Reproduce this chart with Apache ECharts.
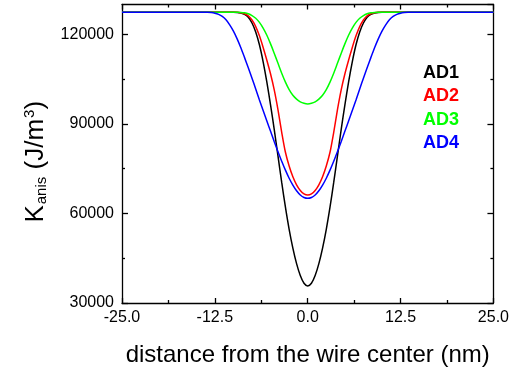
<!DOCTYPE html>
<html><head><meta charset="utf-8">
<script src="https://cdn.jsdelivr.net/npm/echarts@6/dist/echarts.min.js"></script>
<style>html,body{margin:0;padding:0;background:#fff}#c{width:512px;height:372px}</style>
</head><body><div id="c"></div>
<script>
// x positions (nm)
const xs = [-25,-20,-15,-14.5,-14,-13.5,-13,-12.5,-12,-11.5,-11,-10.5,-10,-9.5,-9,-8.5,-8,-7.5,-7,-6.5,-6,-5.5,-5,-4.5,-4,-3.5,-3,-2.5,-2,-1.5,-1,-0.5,0,
  0.5,1,1.5,2,2.5,3,3.5,4,4.5,5,5.5,6,6.5,7,7.5,8,8.5,9,9.5,10,10.5,11,11.5,12,12.5,13,13.5,14,14.5,15,20,25];
const ad1 = [127400,127400,127400,127400,127400,127400,127400,127400,127400,127400,127400,127400,127400,127350,127150,126700,125700,123800,120800,116500,110800,104000,96300,88000,79200,70400,62100,54700,48400,43200,39200,36600,35700,
  36600,39200,43200,48400,54700,62100,70400,79200,88000,96300,104000,110800,116500,120800,123800,125700,126700,127150,127350,127400,127400,127400,127400,127400,127400,127400,127400,127400,127400,127400,127400,127400];
const ad2 = [127400,127400,127400,127400,127400,127400,127400,127400,127400,127400,127400,127400,127400,127370,127250,126900,126200,124800,122600,119500,115600,111300,106700,101300,94700,87200,80500,75900,72300,69600,67700,66550,66170,
  66550,67700,69600,72300,75900,80500,87200,94700,101300,106700,111300,115600,119500,122600,124800,126200,126900,127250,127370,127400,127400,127400,127400,127400,127400,127400,127400,127400,127400,127400,127400,127400];
const ad3 = [127400,127400,127400,127400,127400,127400,127400,127400,127400,127400,127400,127400,127400,127400,127350,127200,126900,126300,125400,124000,122100,119700,116800,113600,110300,107000,104000,101500,99600,98300,97400,96900,96700,
  96900,97400,98300,99600,101500,104000,107000,110300,113600,116800,119700,122100,124000,125400,126300,126900,127200,127350,127400,127400,127400,127400,127400,127400,127400,127400,127400,127400,127400,127400,127400,127400];
const ad4 = [127400,127400,127400,127400,127400,127380,127300,127100,126700,126000,124900,123200,121100,118500,115500,112200,108800,105300,101700,98000,94500,91000,87500,84000,80700,77500,74500,71800,69500,67600,66200,65350,65070,
  65350,66200,67600,69500,71800,74500,77500,80700,84000,87500,91000,94500,98000,101700,105300,108800,112200,115500,118500,121100,123200,124900,126000,126700,127100,127300,127380,127400,127400,127400,127400,127400];
const seriesNames = ['AD1','AD2','AD3','AD4'];
const seriesColors = ['#000000','#ff0000','#00ff00','#0000ff'];
const seriesValues = [ad1, ad2, ad3, ad4];
const yMajor = [30000,60000,90000,120000];
const yMinor = [45000,75000,105000];

const FONT = 'Liberation Sans, Arial, sans-serif';
const chart = echarts.init(document.getElementById('c'), null, {renderer:'canvas'});
const baseX = {type:'value', min:-25, max:25, interval:12.5};
const baseY = {type:'value', min:30000, max:130000, interval:30000};
const lineSt = {show:true, onZero:false, lineStyle:{color:'#000', width:1.3}};
chart.setOption({
  animation:false,
  backgroundColor:'#fff',
  grid:{left:122, right:17, top:4.5, bottom:67.5, containLabel:false},
  legend:{
    orient:'vertical', left:413, top:59, icon:'none', itemWidth:0, itemHeight:14, itemGap:5.3,
    selectedMode:false,
    data: seriesNames.map((n,i)=>({name:n, textStyle:{color:seriesColors[i]}})),
    textStyle:{fontSize:18, fontWeight:'bold', fontFamily:FONT}
  },
  xAxis:[
    Object.assign({}, baseX, {position:'bottom', axisLine:lineSt,
      axisTick:{inside:true, length:5, lineStyle:{color:'#000', width:1.3}},
      minorTick:{show:true, splitNumber:2, length:3, lineStyle:{color:'#000', width:1.3}},
      splitLine:{show:false},
      axisLabel:{color:'#000', fontSize:16, fontFamily:FONT, margin:7, formatter:v=>v.toFixed(1)},
      name:'distance from the wire center (nm)', nameLocation:'middle', nameGap:40,
      nameTextStyle:{color:'#000', fontSize:24, fontFamily:FONT}}),
    Object.assign({}, baseX, {position:'top', axisLine:lineSt,
      axisTick:{inside:true, length:5, lineStyle:{color:'#000', width:1.3}},
      minorTick:{show:true, splitNumber:2, length:3, lineStyle:{color:'#000', width:1.3}},
      splitLine:{show:false}, axisLabel:{show:false}})
  ],
  yAxis:[
    Object.assign({}, baseY, {position:'left', axisLine:lineSt,
      axisTick:{inside:true, length:6, lineStyle:{color:'#000', width:1.3}},
      splitLine:{show:false},
      axisLabel:{color:'#000', fontSize:16, fontFamily:FONT, margin:8, showMaxLabel:false, formatter:v=>String(v)},
      name:'{k|K}{s|anis}{k| (J/m}{p|3}{k|)}', nameLocation:'middle', nameGap:72,
      nameTextStyle:{color:'#000', fontFamily:FONT, padding:[0,16,0,0],
        rich:{k:{fontSize:26, fontFamily:FONT, color:'#000'},
              s:{fontSize:15, fontFamily:FONT, color:'#000', verticalAlign:'bottom', padding:[12,0,0,1]},
              p:{fontSize:15, fontFamily:FONT, color:'#000', verticalAlign:'top', padding:[0,0,12,1]}}}}),
    Object.assign({}, baseY, {position:'left', axisLine:{show:false, onZero:false},
      axisTick:{inside:true, length:3, customValues:yMinor, lineStyle:{color:'#000', width:1.3}},
      splitLine:{show:false}, axisLabel:{show:false}}),
    Object.assign({}, baseY, {position:'right', axisLine:lineSt,
      axisTick:{inside:true, length:6, lineStyle:{color:'#000', width:1.3}},
      splitLine:{show:false}, axisLabel:{show:false}}),
    Object.assign({}, baseY, {position:'right', axisLine:{show:false, onZero:false},
      axisTick:{inside:true, length:3, customValues:yMinor, lineStyle:{color:'#000', width:1.3}},
      splitLine:{show:false}, axisLabel:{show:false}})
  ],
  series: seriesNames.map((n,i)=>({
    name:n, type:'line', xAxisIndex:0, yAxisIndex:0, showSymbol:false, smooth:0.3,
    lineStyle:{color:seriesColors[i], width:1.5}, itemStyle:{color:seriesColors[i]},
    data: xs.map((x,j)=>[x, seriesValues[i][j]])
  }))
});
</script></body></html>
